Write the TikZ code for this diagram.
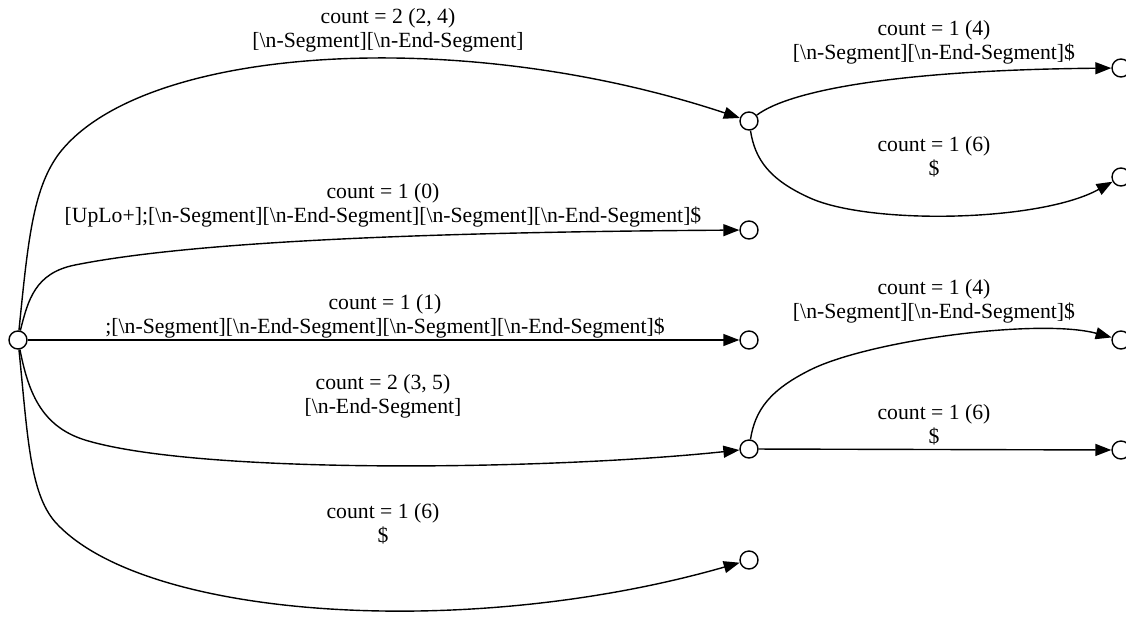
\documentclass[tikz,border=0pt]{standalone}
\usepackage{fontspec}
\setmainfont{Liberation Serif}
\usetikzlibrary{arrows.meta}

\begin{document}
\begin{tikzpicture}[x=1pt,y=-1pt,
  state/.style={circle,draw,line width=1.4pt,fill=white,minimum size=18pt,inner sep=0pt},
  edge/.style={line width=1.4pt,-{Triangle[length=16pt,width=12pt]}},
  lbl/.style={align=center,inner sep=0pt,font=\fontsize{21.7}{24}\selectfont}]
\useasboundingbox (0,0) rectangle (1126,640);

% states
\node[state] (L)  at (18,340) {};
\node[state] (A)  at (749,121) {};
\node[state] (B)  at (749,230) {};
\node[state] (C)  at (749,340) {};
\node[state] (D)  at (749,449) {};
\node[state] (E)  at (749,560) {};
\node[state] (R1) at (1121,68) {};
\node[state] (R2) at (1121,177) {};
\node[state] (R3) at (1121,340) {};
\node[state] (R4) at (1121,450) {};

% transitions out of the start state
\draw[edge] (L) .. controls (28,240) and (33,190) .. (58,155)
                .. controls (140,45) and (460,25) .. (A);
\draw[edge] (L) .. controls (28,300) and (35,273) .. (75,265)
                .. controls (200,240) and (450,232) .. (B);
\draw[edge] (L) -- (C);
\draw[edge] (L) .. controls (28,390) and (40,426) .. (85,440)
                .. controls (200,475) and (550,470) .. (D);
\draw[edge] (L) .. controls (28,440) and (30,497) .. (58,525)
                .. controls (150,620) and (470,640) .. (E);

% second-level transitions
\draw[edge] (A) .. controls (790,90) and (900,70) .. (R1);
\draw[edge] (A) .. controls (755,160) and (770,180) .. (810,198)
                .. controls (870,225) and (1040,222) .. (R2);
\draw[edge] (D) .. controls (755,410) and (770,390) .. (810,370)
                .. controls (870,340) and (1040,318) .. (R3);
\draw[edge] (D) -- (R4);

% labels
\node[lbl] (lA) at (388,30)  {count = 2 (2, 4)\\{[}\textbackslash n-Segment{]}{[}\textbackslash n-End-Segment{]}};
\node[lbl] (lB) at (383,205) {count = 1 (0)\\{[}UpLo+{]};{[}\textbackslash n-Segment{]}{[}\textbackslash n-End-Segment{]}{[}\textbackslash n-Segment{]}{[}\textbackslash n-End-Segment{]}\$};
\node[lbl] (lC) at (385,316) {count = 1 (1)\\;{[}\textbackslash n-Segment{]}{[}\textbackslash n-End-Segment{]}{[}\textbackslash n-Segment{]}{[}\textbackslash n-End-Segment{]}\$};
\node[lbl] (lD) at (383,396) {count = 2 (3, 5)\\{[}\textbackslash n-End-Segment{]}};
\node[lbl] (lE) at (383,524) {count = 1 (6)\\\$};
\node[lbl] (lR1) at (934,42)  {count = 1 (4)\\{[}\textbackslash n-Segment{]}{[}\textbackslash n-End-Segment{]}\$};
\node[lbl] (lR2) at (934,157) {count = 1 (6)\\\$};
\node[lbl] (lR3) at (934,301) {count = 1 (4)\\{[}\textbackslash n-Segment{]}{[}\textbackslash n-End-Segment{]}\$};
\node[lbl] (lR4) at (934,425) {count = 1 (6)\\\$};
\end{tikzpicture}
\end{document}
